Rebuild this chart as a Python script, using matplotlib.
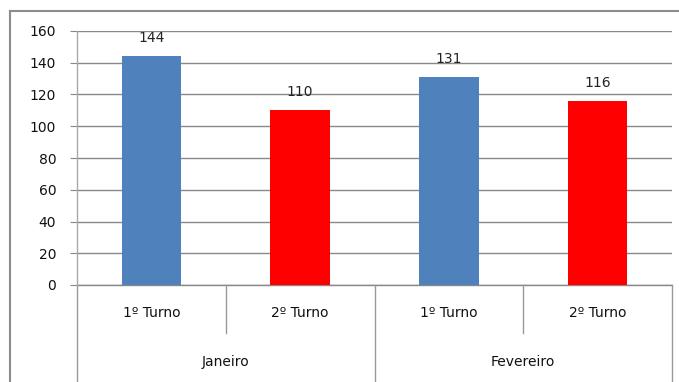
import matplotlib
matplotlib.use("Agg")
import matplotlib.pyplot as plt
from matplotlib.lines import Line2D
from matplotlib.transforms import blended_transform_factory

plt.rcParams['font.family'] = ['DejaVu Sans']

months = ["Janeiro", "Fevereiro"]
turnos = ["1º Turno", "2º Turno", "1º Turno", "2º Turno"]
values = [144, 110, 131, 116]
colors = ["#4F81BD", "#FF0000", "#4F81BD", "#FF0000"]
yticks = [0, 20, 40, 60, 80, 100, 120, 140, 160]

W, H = 679, 382
fig = plt.figure(figsize=(W / 100, H / 100), dpi=100)
fig.patch.set_facecolor("white")

x0, x1, ytop, ybot = 77, 672, 31, 285
ax = fig.add_axes([x0 / W, (H - ybot) / H, (x1 - x0) / W, (ybot - ytop) / H])

pos = [i + 0.5 for i in range(len(values))]
bars = ax.bar(pos, values, width=0.4, color=colors, zorder=3)
for p, v in zip(pos, values):
    ax.annotate(str(v), (p, v), xytext=(0, 8), textcoords="offset points",
                ha="center", va="bottom", fontsize=10, color="#222222")

ax.set_xlim(0, len(values))
ax.set_ylim(0, 160)
ax.set_yticks(yticks)
ax.set_yticklabels([str(t) for t in yticks], fontsize=10, color="#111111")
ax.tick_params(axis="y", length=5, color="#888888", pad=10)
ax.set_xticks([])
ax.grid(axis="y", color="#888888", linewidth=1, zorder=0)
for s in ["top", "right", "bottom"]:
    ax.spines[s].set_visible(False)
ax.spines["left"].set_color("#aaaaaa")
ax.spines["left"].set_linewidth(1)

# category axis below
tr = blended_transform_factory(ax.transData, fig.transFigure)
def fy(py):
    return (H - py) / H

ax.add_line(Line2D([0, 4], [fy(285), fy(285)], transform=tr, color="#888888", lw=1, clip_on=False))
for xv in [0, 2, 4]:
    ax.add_line(Line2D([xv, xv], [fy(285), fy(382)], transform=tr, color="#999999", lw=1, clip_on=False))
for xv in [1, 3]:
    ax.add_line(Line2D([xv, xv], [fy(285), fy(333)], transform=tr, color="#999999", lw=1, clip_on=False))
for p, t in zip(pos, turnos):
    ax.text(p, fy(313), t, transform=tr, ha="center", va="center", fontsize=10, color="#111111")
for i, m in enumerate(months):
    ax.text(2 * i + 1, fy(362), m, transform=tr, ha="center", va="center", fontsize=10, color="#111111")

# outer chart frame
fig.add_artist(Line2D([9.5 / W, 9.5 / W], [fy(11), 0], transform=fig.transFigure, color="#8c8c8c", lw=1.5))
fig.add_artist(Line2D([9.5 / W, 1], [fy(11), fy(11)], transform=fig.transFigure, color="#8c8c8c", lw=1.5))

fig.savefig("out.png", dpi=100)
